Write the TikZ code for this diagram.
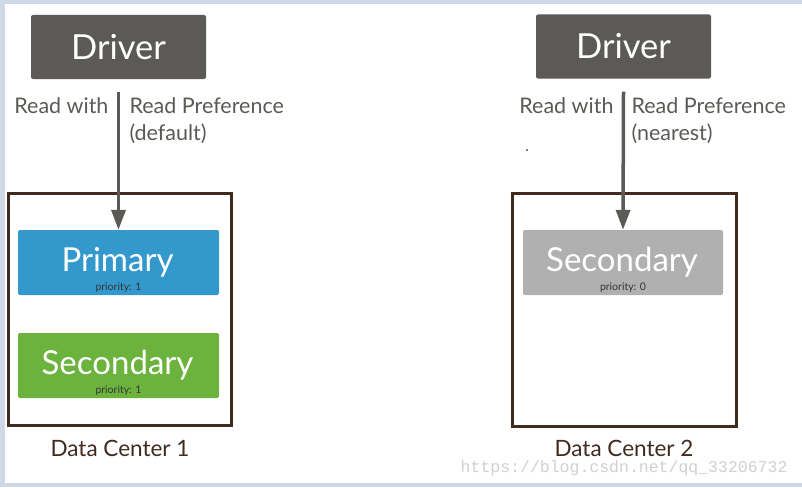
\documentclass[tikz,border=0pt]{standalone}
\usepackage{fontspec}
\setmainfont{Lato}
\newfontfamily\wmfont{Liberation Mono}
\usetikzlibrary{arrows.meta}
\definecolor{drvgray}{HTML}{5B5A56}
\definecolor{dcbrown}{HTML}{412B1E}
\definecolor{priblue}{HTML}{3399CC}
\definecolor{secgreen}{HTML}{6CB33E}
\definecolor{secgray}{HTML}{B0B0B0}
\definecolor{framebg}{HTML}{CFD8E7}

\begin{document}
\begin{tikzpicture}[x=1pt,y=-1pt,
  driver/.style={fill=drvgray,rounded corners=2pt,minimum width=175pt,minimum height=64pt,
    text=white,font=\fontsize{34.5}{36}\selectfont},
  member/.style={rounded corners=2pt,minimum width=201pt,minimum height=65pt},
  dcbox/.style={draw=dcbrown,line width=3pt},
  bigtext/.style={anchor=base,text=white,font=\fontsize{33}{35}\selectfont},
  prio/.style={anchor=base,text=black!80,font=\fontsize{10.5}{12}\selectfont},
  readtext/.style={text=drvgray,font=\fontsize{21.5}{23}\selectfont},
  dctext/.style={anchor=base,text=dcbrown,font=\fontsize{22.5}{24}\selectfont},
  readarrow/.style={draw=drvgray,line width=3.5pt,-{Triangle[length=20pt,width=14pt]}}]
  \useasboundingbox (0,0) rectangle (802,487);
  \fill[framebg] (0,0) rectangle (802,487);
  \fill[white] (5,4) rectangle (802,483);
  % data center 1
  \node[driver] (drv1) at (118.5,47) {Driver};
  \node[dcbox,minimum width=223pt,minimum height=232pt] (dc1) at (119.5,309) {};
  \node[member,fill=priblue] (pri1) at (118.5,262.5) {};
  \node[member,fill=secgreen] (sec1) at (118.5,365.5) {};
  \node[bigtext] (pri1txt) at (117.5,271) {Primary};
  \node[prio] (pri1prio) at (118.5,290) {priority: 1};
  \node[bigtext] (sec1txt) at (117.5,374) {Secondary};
  \node[prio] (sec1prio) at (118.5,393) {priority: 1};
  \draw[readarrow] ([yshift=-13pt]drv1.south) -- (pri1.north);
  \node[readtext,anchor=base east] (rw1) at (112,113) {Read with};
  \node[readtext,anchor=base west] (rp1) at (126,113) {Read Preference};
  \node[readtext,anchor=base west] (mode1) at (126,140) {(default)};
  \node[dctext] (dc1txt) at (120,456) {Data Center 1};
  % data center 2
  \node[driver] (drv2) at (623.5,46.5) {Driver};
  \node[dcbox,minimum width=224pt,minimum height=233pt] (dc2) at (624,309.5) {};
  \node[member,minimum width=200pt,fill=secgray] (sec2) at (623,262.5) {};
  \node[bigtext] (sec2txt) at (622,271) {Secondary};
  \node[prio] (sec2prio) at (623,290) {priority: 0};
  \draw[readarrow] ([yshift=-13pt]drv2.south) -- (sec2.north);
  \node[readtext,anchor=base east] (rw2) at (617,113) {Read with};
  \node[readtext,anchor=base west] (rp2) at (628,113) {Read Preference};
  \node[readtext,anchor=base west] (mode2) at (628,140) {(nearest)};
  \node[dctext] (dc2txt) at (624,456) {Data Center 2};
  \fill (527,150) circle (0.8pt);
  \node[anchor=base east,text=black!18,font=\wmfont\fontsize{16.5}{18}\selectfont] (mark) at (791,472) {https://blog.csdn.net/qq\_33206732};
\end{tikzpicture}
\end{document}
